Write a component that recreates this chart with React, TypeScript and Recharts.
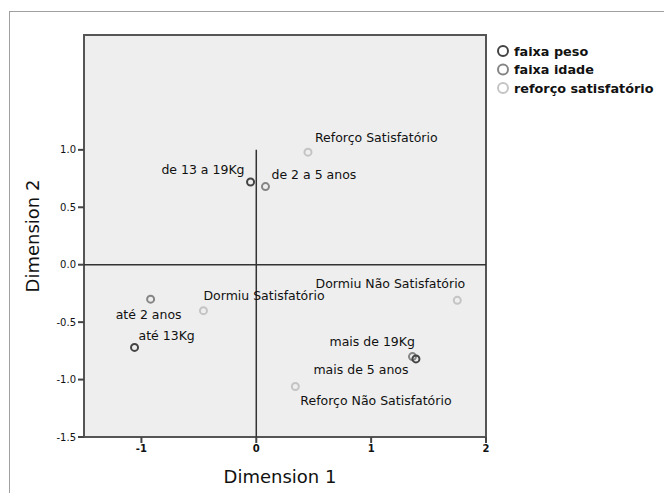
import React from 'react';
import { ScatterChart, Scatter, XAxis, YAxis, ReferenceArea, ReferenceLine } from 'recharts';

const faixaPeso = [
  { label: 'de 13 a 19Kg', x: -0.05, y: 0.72 },
  { label: 'até 13Kg', x: -1.06, y: -0.72 },
  { label: 'mais de 19Kg', x: 1.39, y: -0.82 },
];
const faixaIdade = [
  { label: 'de 2 a 5 anos', x: 0.08, y: 0.68 },
  { label: 'até 2 anos', x: -0.92, y: -0.3 },
  { label: 'mais de 5 anos', x: 1.36, y: -0.8 },
];
const reforco = [
  { label: 'Reforço Satisfatório', x: 0.45, y: 0.98 },
  { label: 'Dormiu Satisfatório', x: -0.46, y: -0.4 },
  { label: 'Dormiu Não Satisfatório', x: 1.75, y: -0.31 },
  { label: 'Reforço Não Satisfatório', x: 0.34, y: -1.06 },
];
const seriesNames = ['faixa peso', 'faixa idade', 'reforço satisfatório'];
const xTicks = [-1, 0, 1, 2];
const yTicks = [-1.5, -1.0, -0.5, 0.0, 0.5, 1.0];

// label placement (layout only)
const labelPlacement: Record<string, { dx: number; dy: number; anchor: 'start' | 'middle' | 'end' }> = {
  'de 13 a 19Kg': { dx: -6, dy: -13, anchor: 'end' },
  'de 2 a 5 anos': { dx: 6, dy: -12, anchor: 'start' },
  'Reforço Satisfatório': { dx: 7, dy: -15, anchor: 'start' },
  'até 2 anos': { dx: -2, dy: 15, anchor: 'middle' },
  'até 13Kg': { dx: 4, dy: -12, anchor: 'start' },
  'Dormiu Satisfatório': { dx: 0, dy: -15, anchor: 'start' },
  'Dormiu Não Satisfatório': { dx: 8, dy: -17, anchor: 'end' },
  'mais de 19Kg': { dx: -1, dy: -17, anchor: 'end' },
  'mais de 5 anos': { dx: -4, dy: 13, anchor: 'end' },
  'Reforço Não Satisfatório': { dx: 5, dy: 14, anchor: 'start' },
};

const colors = ['#444444', '#858585', '#c4c4c4'];
const FONT = '"DejaVu Sans", Verdana, sans-serif';

const makeShape = (color: string) => (props: any) => {
  const { cx, cy, payload } = props;
  const p = labelPlacement[payload.label] || { dx: 6, dy: -10, anchor: 'start' };
  return (
    <g>
      <circle cx={cx} cy={cy} r={3.5} fill="none" stroke={color} strokeWidth={2} />
      <text
        x={cx + p.dx}
        y={cy + p.dy}
        textAnchor={p.anchor}
        dominantBaseline="central"
        fontFamily={FONT}
        fontSize={12.5}
        fill="#111"
      >
        {payload.label}
      </text>
    </g>
  );
};

export default function App() {
  return (
    <div style={{ position: 'absolute', left: 0, top: 0, width: 664, height: 493, background: '#fff', fontFamily: FONT }}>
      <div
        style={{
          position: 'absolute',
          left: 9,
          top: 11,
          width: 700,
          height: 500,
          borderLeft: '1px solid #a0a0a0',
          borderTop: '1px solid #a0a0a0',
        }}
      />
      <div style={{ position: 'absolute', left: 0, top: 0 }}>
        <ScatterChart width={664} height={493} margin={{ top: 35, right: 178, bottom: 26, left: 24 }}>
          <XAxis
            type="number"
            dataKey="x"
            domain={[-1.5, 2]}
            ticks={xTicks}
            allowDataOverflow
            axisLine={false}
            tickLine={{ stroke: '#444', strokeWidth: 2 }}
            tickSize={6}
            height={30}
            tick={{ fontSize: 10, fill: '#111', fontWeight: 'bold', fontFamily: FONT }}
            label={{ value: 'Dimension 1', position: 'bottom', offset: 3, dx: -5, style: { fontSize: 18, fill: '#111', fontFamily: FONT } }}
          />
          <YAxis
            type="number"
            dataKey="y"
            domain={[-1.5, 2]}
            ticks={yTicks}
            allowDataOverflow
            axisLine={false}
            tickLine={{ stroke: '#444', strokeWidth: 2 }}
            tickSize={6}
            width={60}
            tickFormatter={(v: number) => v.toFixed(1)}
            tick={{ fontSize: 10, fill: '#111', fontFamily: FONT }}
            label={{
              value: 'Dimension 2',
              angle: -90,
              position: 'insideLeft',
              offset: 9,
              style: { textAnchor: 'middle', fontSize: 18, fill: '#111', fontFamily: FONT },
            }}
          />
          <ReferenceArea x1={-1.5} x2={2} y1={-1.5} y2={2} fill="#eeeeee" fillOpacity={1} stroke="#555" strokeWidth={2} />
          <ReferenceLine y={0} stroke="#333" strokeWidth={1.5} />
          <ReferenceLine segment={[{ x: 0, y: -1.5 }, { x: 0, y: 1 }]} stroke="#333" strokeWidth={1.5} />
          <Scatter name={seriesNames[2]} data={reforco} isAnimationActive={false} shape={makeShape(colors[2])} />
          <Scatter name={seriesNames[1]} data={faixaIdade} isAnimationActive={false} shape={makeShape(colors[1])} />
          <Scatter name={seriesNames[0]} data={faixaPeso} isAnimationActive={false} shape={makeShape(colors[0])} />
        </ScatterChart>
      </div>
      <svg style={{ position: 'absolute', left: 490, top: 36 }} width={174} height={64}>
        {seriesNames.map((n, i) => (
          <g key={n}>
            <circle cx={13} cy={15 + i * 18.5} r={5} fill="none" stroke={colors[i]} strokeWidth={2} />
            <text x={24} y={15 + i * 18.5} dominantBaseline="central" fontFamily={FONT} fontSize={12.8} fontWeight="bold" fill="#111">
              {n}
            </text>
          </g>
        ))}
      </svg>
    </div>
  );
}
